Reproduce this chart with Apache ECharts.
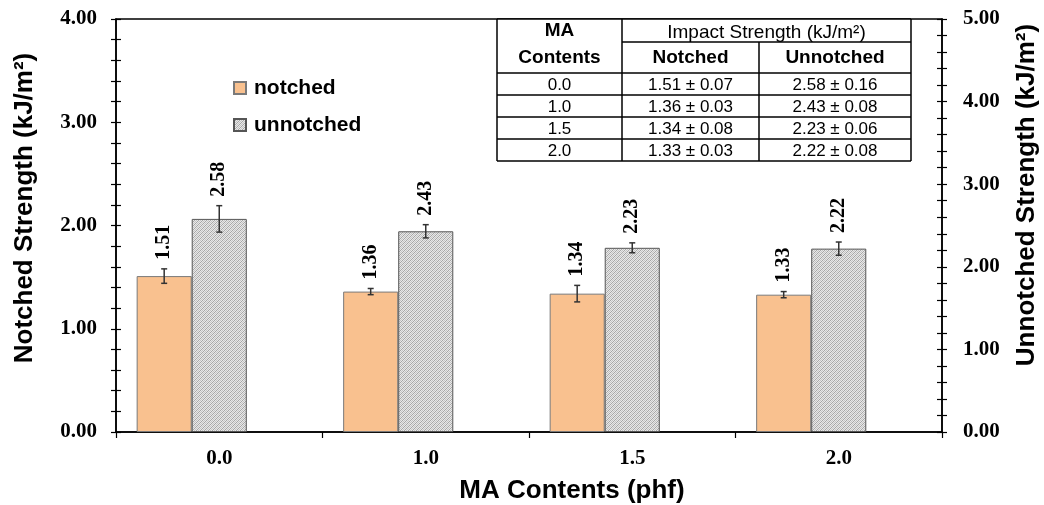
<!DOCTYPE html>
<html><head><meta charset="utf-8">
<script src="https://cdn.jsdelivr.net/npm/echarts@6/dist/echarts.min.js"></script>
<style>html,body{margin:0;padding:0;background:#fff}#c{width:1044px;height:505px}</style>
</head><body><div id="c"></div>
<script>
// ---- data ----
const categories = ['0.0', '1.0', '1.5', '2.0'];
const notched = [1.51, 1.36, 1.34, 1.33];
const notchedErr = [0.07, 0.03, 0.08, 0.03];
const unnotched = [2.58, 2.43, 2.23, 2.22];
const unnotchedErr = [0.16, 0.08, 0.06, 0.08];
const leftAxisMax = 4;
const rightAxisMax = 5;
const seriesNames = ['notched', 'unnotched'];
const xTitle = 'MA Contents (phf)';
const leftTitle = 'Notched Strength (kJ/m²)';
const rightTitle = 'Unnotched Strength (kJ/m²)';
const tableHead = ['MA', 'Contents', 'Impact Strength (kJ/m²)', 'Notched', 'Unnotched'];

// ---- styles ----
const SERIF = '"Liberation Serif","Times New Roman",serif';
const SANS = '"Liberation Sans",Arial,sans-serif';

function hatch() {
  const c = document.createElement('canvas'); c.width = 4; c.height = 4;
  const g = c.getContext('2d');
  g.fillStyle = '#e8e8e8'; g.fillRect(0, 0, 4, 4);
  g.fillStyle = '#a6a6a6';
  for (let i = 0; i < 4; i++) { g.fillRect(i, i, 1, 1); g.fillRect((i + 2) % 4, i, 1, 1); }
  g.fillStyle = '#c4c4c4';
  for (let i = 0; i < 4; i++) { g.fillRect((4 - i) % 4, i, 1, 1); }
  return c;
}

const chart = echarts.init(document.getElementById('c'), null, {renderer: 'canvas'});

function errRender(offFrac) {
  return function (params, api) {
    const i = api.value(0), v = api.value(1), e = api.value(2);
    const bw = api.size([1, 0])[0];
    const x = api.coord([i, v])[0] + offFrac * bw;
    const yT = api.coord([i, v + e])[1];
    const yB = api.coord([i, v - e])[1];
    const cap = 3;
    const st = {stroke: '#333', lineWidth: 1.5};
    return {type: 'group', children: [
      {type: 'line', shape: {x1: x, y1: yT, x2: x, y2: yB}, style: st},
      {type: 'line', shape: {x1: x - cap, y1: yT, x2: x + cap, y2: yT}, style: st},
      {type: 'line', shape: {x1: x - cap, y1: yB, x2: x + cap, y2: yB}, style: st},
      {type: 'text', x: x, y: yT - 9, rotation: Math.PI / 2,
        style: {text: v.toFixed(2), font: 'bold 20px ' + SERIF, fill: '#000', align: 'left', verticalAlign: 'middle'}}
    ]};
  };
}

const axisLineStyle = {color: '#000', width: 1.5};
function yAxisMain(pos, max, margin) {
  return {type: 'value', position: pos, min: 0, max: max, interval: 1,
    axisLine: {show: true, lineStyle: axisLineStyle},
    axisTick: {show: true, length: 5, lineStyle: {color: '#000', width: 1.2}},
    minorTick: {show: true, splitNumber: 5, length: 5, lineStyle: {color: '#000', width: 1.2}},
    splitLine: {show: false}, minorSplitLine: {show: false},
    axisLabel: {formatter: v => v.toFixed(2), fontFamily: SERIF, fontWeight: 'bold', fontSize: 21, color: '#000', margin: margin}};
}
function yAxisInside(pos, max) {
  return {type: 'value', position: pos, min: 0, max: max, interval: 1,
    axisLine: {show: false},
    axisTick: {show: true, inside: true, length: 5, lineStyle: {color: '#000', width: 1.2}},
    minorTick: {show: true, splitNumber: 5, length: 5, lineStyle: {color: '#000', width: 1.2}},
    splitLine: {show: false}, minorSplitLine: {show: false},
    axisLabel: {show: false}};
}

// table graphics
const tx = [497, 622, 759, 911];
const ty = [19, 42, 73, 95, 117, 139, 161];
const tbl = [];
const ls = {stroke: '#000', lineWidth: 1.5};
tbl.push({type: 'rect', shape: {x: tx[0], y: ty[0], width: tx[3] - tx[0], height: ty[6] - ty[0]}, style: {fill: '#fff'}, z: 10});
function L(x1, y1, x2, y2) { tbl.push({type: 'line', shape: {x1, y1, x2, y2}, style: ls, z: 11}); }
L(tx[0], ty[0], tx[3], ty[0]);
L(tx[0], ty[0], tx[0], ty[6]);
L(tx[1], ty[0], tx[1], ty[6]);
L(tx[2], ty[1], tx[2], ty[6]);
L(tx[3], ty[0], tx[3], ty[6]);
L(tx[1], ty[1], tx[3], ty[1]);
for (let k = 2; k <= 6; k++) L(tx[0], ty[k], tx[3], ty[k]);
function T(text, x, y, font) {
  tbl.push({type: 'text', x, y, z: 12, style: {text, font, fill: '#000', align: 'center', verticalAlign: 'middle'}});
}
const c1 = (tx[0] + tx[1]) / 2, c2 = (tx[1] + tx[2]) / 2, c3 = (tx[2] + tx[3]) / 2;
T(tableHead[0], c1, 31, 'bold 19px ' + SANS);
T(tableHead[1], c1, 58, 'bold 19px ' + SANS);
T(tableHead[2], (tx[1] + tx[3]) / 2, 33, '19px ' + SANS);
T(tableHead[3], c2, 58, 'bold 19px ' + SANS);
T(tableHead[4], c3, 58, 'bold 19px ' + SANS);
for (let i = 0; i < categories.length; i++) {
  const yc = (ty[2 + i] + ty[3 + i]) / 2 + 1;
  T(categories[i], c1, yc, '17px ' + SANS);
  T(notched[i].toFixed(2) + ' ± ' + notchedErr[i].toFixed(2), c2, yc, '17px ' + SANS);
  T(unnotched[i].toFixed(2) + ' ± ' + unnotchedErr[i].toFixed(2), c3, yc, '17px ' + SANS);
}

const titleFont = 'bold 26px ' + SANS;
const graphics = tbl.concat([
  {type: 'text', x: 25, y: 208, rotation: Math.PI / 2, style: {text: leftTitle, font: titleFont, fill: '#000', align: 'center', verticalAlign: 'middle'}},
  {type: 'text', x: 1027, y: 195, rotation: Math.PI / 2, style: {text: rightTitle, font: titleFont, fill: '#000', align: 'center', verticalAlign: 'middle'}},
  {type: 'text', x: 572, y: 491, style: {text: xTitle, font: titleFont, fill: '#000', align: 'center', verticalAlign: 'middle'}}
]);

const option = {
  animation: false,
  backgroundColor: '#fff',
  grid: {left: 116, right: 102, top: 19, bottom: 73, show: true, borderColor: '#000', borderWidth: 1.5, backgroundColor: 'transparent', containLabel: false},
  legend: {data: seriesNames, orient: 'vertical', left: 233, top: 77, padding: 0, itemWidth: 12, itemHeight: 12, itemGap: 15, icon: 'rect',
    textStyle: {fontFamily: SANS, fontWeight: 'bold', fontSize: 21, color: '#000', lineHeight: 22, padding: [0, 0, 0, 3]}},
  xAxis: {type: 'category', data: categories,
    axisLine: {lineStyle: axisLineStyle},
    axisTick: {show: true, length: 6, lineStyle: {color: '#000', width: 1.2}},
    axisLabel: {fontFamily: SERIF, fontWeight: 'bold', fontSize: 21, color: '#000', margin: 16},
    splitLine: {show: false}},
  yAxis: [yAxisMain('left', leftAxisMax, 19), yAxisMain('right', rightAxisMax, 21), yAxisInside('left', leftAxisMax), yAxisInside('right', rightAxisMax)],
  series: [
    {name: seriesNames[0], type: 'bar', yAxisIndex: 0, data: notched, barGap: 0, barCategoryGap: '20%',
      itemStyle: {color: '#f9c18f', borderColor: '#7a7a7a', borderWidth: 1}},
    {name: seriesNames[1], type: 'bar', yAxisIndex: 1, data: unnotched, barGap: 0, barCategoryGap: '20%',
      itemStyle: {color: {image: hatch(), repeat: 'repeat'}, borderColor: '#555', borderWidth: 1}},
    {name: 'pad', type: 'bar', yAxisIndex: 0, data: categories.map(() => null), barGap: 0, barCategoryGap: '20%', silent: true},
    {type: 'custom', yAxisIndex: 0, renderItem: errRender(-0.8 / 3), z: 5, clip: false,
      data: notched.map((v, i) => [i, v, notchedErr[i]]), encode: {x: 0, y: 1}},
    {type: 'custom', yAxisIndex: 1, renderItem: errRender(0), z: 5, clip: false,
      data: unnotched.map((v, i) => [i, v, unnotchedErr[i]]), encode: {x: 0, y: 1}}
  ],
  graphic: graphics
};
chart.setOption(option);
</script>
</body></html>
